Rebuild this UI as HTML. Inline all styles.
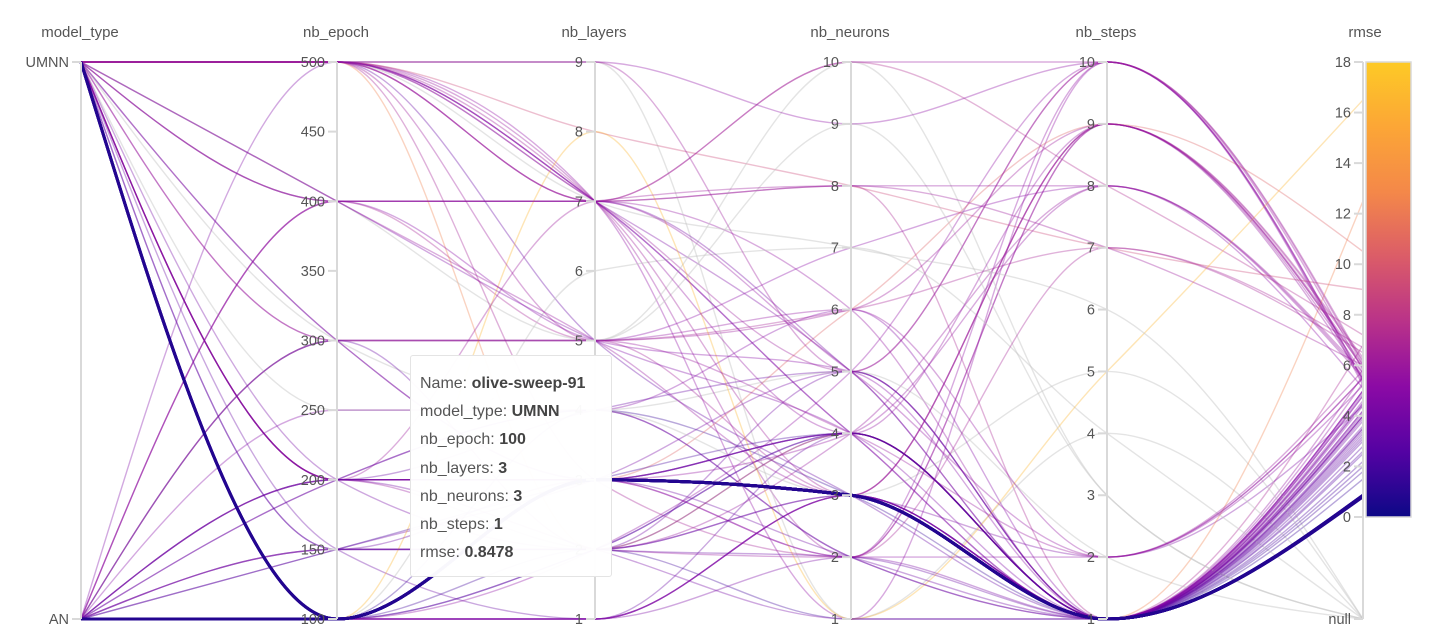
<!DOCTYPE html>
<html><head><meta charset="utf-8">
<style>
body{margin:0;background:#fff;font-family:"Liberation Sans",sans-serif;}
#wrap{position:relative;width:1441px;height:643px;overflow:hidden;}
svg text{font-family:"Liberation Sans",sans-serif;fill:#555;}
#tip{position:absolute;left:410px;top:355px;width:202px;height:222px;background:rgba(255,255,255,0.97);border:1px solid #e4e4e4;border-radius:3px;box-sizing:border-box;padding:14px 0 0 9px;font-size:16px;color:#555;line-height:28.2px;}
#tip b{color:#444;}
</style></head><body>
<div id="wrap">
<svg id="chart" width="1441" height="643"></svg>
<div id="tip">
<div>Name: <b>olive-sweep-91</b></div>
<div>model_type: <b>UMNN</b></div>
<div>nb_epoch: <b>100</b></div>
<div>nb_layers: <b>3</b></div>
<div>nb_neurons: <b>3</b></div>
<div>nb_steps: <b>1</b></div>
<div>rmse: <b>0.8478</b></div>
</div>
</div>
<script>
const modelTypes=["AN","AN","AN","AN","AN","AN","AN","AN","UMNN","UMNN","UMNN","UMNN",
"AN","AN","AN","AN","AN","AN","AN","AN","AN","AN","AN","AN",
"UMNN","UMNN","UMNN","UMNN","UMNN","UMNN","UMNN","UMNN","UMNN","UMNN","UMNN","UMNN",
"UMNN","UMNN","UMNN","UMNN","UMNN","UMNN","UMNN","UMNN","UMNN","UMNN","UMNN","UMNN",
"AN","AN","AN","AN","AN","AN","UMNN","UMNN","UMNN","UMNN","UMNN","UMNN",
"AN","UMNN","UMNN","AN","UMNN","AN","UMNN","UMNN","AN","UMNN","UMNN","UMNN",
"AN","AN","AN","AN","UMNN","UMNN","UMNN","UMNN","AN","AN","UMNN","UMNN","AN","UMNN"];
const epochs=[100,100,100,100,100,100,100,100,100,100,100,100,
500,400,300,200,200,100,200,150,150,100,400,300,
500,500,500,500,500,500,500,500,400,400,400,300,
300,200,200,200,200,200,150,150,100,100,500,400,
100,200,150,250,300,100,500,500,400,300,200,250,
100,500,200,300,500,100,500,200,400,500,300,150,
100,100,150,200,500,500,400,300,100,200,500,100,150,500];
const layers=[3,3,3,3,3,3,3,3,3,3,3,3,
7,5,2,3,2,1,4,2,3,1,7,5,
9,7,7,5,7,3,9,7,7,5,5,5,
3,3,2,4,3,7,2,3,1,2,7,5,
8,3,2,4,5,6,2,8,7,5,3,4,
1,7,3,5,9,2,7,3,5,7,4,1,
2,1,3,4,7,5,7,3,2,2,7,4,2,7];
const neurons=[3,3,3,3,3,3,3,3,3,3,3,3,
4,5,2,4,1,3,2,3,4,3,5,4,
5,4,10,6,8,2,9,3,5,4,3,6,
4,4,3,5,2,8,4,2,2,1,7,9,
1,4,5,6,10,7,4,8,10,3,2,3,
3,5,6,7,1,4,2,3,6,1,5,4,
4,3,5,2,4,3,6,4,5,2,5,3,4,8];
const steps=[1,1,1,1,1,1,1,1,1,1,1,1,
1,1,1,1,1,1,1,1,1,1,2,2,
10,9,10,9,8,7,10,9,1,1,9,2,
8,1,1,1,2,7,1,1,1,1,6,3,
5,1,1,1,3,4,1,7,8,9,10,5,
1,10,9,8,4,1,9,2,7,10,2,1,
1,1,1,1,1,1,1,1,10,9,1,1,8,1];
const rmses=[0.82,0.84,0.8,0.85,0.83,0.81,0.86,0.82,0.85,0.84,0.86,0.83,
4.5,5,3.5,3,4,5,2.5,3.2,2,4.2,5.5,5.8,
6,5.5,5.8,6,5.5,6.5,5.2,6.2,4,4.5,5.7,5.5,
5.6,5,4,3.5,5.2,6,2.8,3.8,4.2,1.8,null,null,
16.5,4.6,3.9,4.8,null,null,12.5,9,7.2,6.3,5.4,null,
4.9,6.1,10.5,5.1,null,3.1,5.9,4.4,6.7,5.3,null,3.4,
2.2,3.6,4.1,5.3,4.8,3.3,5.6,2.6,5.4,5.9,4.4,1.5,5.7,6.8];

const axX=[81,337,595,851,1107,1363];
const names=["model_type","nb_epoch","nb_layers","nb_neurons","nb_steps","rmse"];
const Y0=619,Y1=62;
function yModel(v){return v==="UMNN"?Y1:Y0;}
function yEpoch(v){return Y0-(v-100)/400*(Y0-Y1);}
function yLin9(v){return Y0-(v-1)/8*(Y0-Y1);}
function yLin10(v){return Y0-(v-1)/9*(Y0-Y1);}
const RM0=517;
function yRmse(v){return v===null?Y0:RM0-v/18*(RM0-Y1);}
const plasma=[[13,8,135],[84,2,163],[139,10,165],[185,50,137],[219,92,104],[244,136,73],[252,166,54],[253,202,38]];
function col(v){
 if(v===null)return "rgb(195,195,195)";
 let t=Math.max(0,Math.min(1,v/18))*(plasma.length-1);
 let i=Math.min(plasma.length-2,Math.floor(t)),f=t-i;
 const c=plasma[i].map((a,k)=>Math.round(a+(plasma[i+1][k]-a)*f));
 return `rgb(${c})`;
}
const NS="http://www.w3.org/2000/svg";
const svg=document.getElementById("chart");
function mk(tag,at,parent){const e=document.createElementNS(NS,tag);for(const k in at)e.setAttribute(k,at[k]);(parent||svg).appendChild(e);return e;}

const defs=mk("defs",{});
const lg=mk("linearGradient",{id:"pg",x1:0,y1:1,x2:0,y2:0},defs);
plasma.forEach((c,i)=>mk("stop",{offset:i/(plasma.length-1),"stop-color":`rgb(${c})`},lg));

function sign(x){return x<0?-1:1;}
function monoPath(pts){
 const n=pts.length,sl=[],t=[];
 for(let i=0;i<n-1;i++)sl.push((pts[i+1][1]-pts[i][1])/(pts[i+1][0]-pts[i][0]));
 for(let i=1;i<n-1;i++){
  const s0=sl[i-1],s1=sl[i],h0=pts[i][0]-pts[i-1][0],h1=pts[i+1][0]-pts[i][0];
  const p=(s0*h1+s1*h0)/(h0+h1);
  t[i]=(sign(s0)+sign(s1))*Math.min(Math.abs(s0),Math.abs(s1),0.5*Math.abs(p))||0;
 }
 t[0]=(3*sl[0]-t[1])/2;
 t[n-1]=(3*sl[n-2]-t[n-2])/2;
 let d=`M${pts[0][0]},${pts[0][1]}`;
 for(let i=0;i<n-1;i++){
  const dx=(pts[i+1][0]-pts[i][0])/3;
  d+=` C${pts[i][0]+dx},${pts[i][1]+dx*t[i]} ${pts[i+1][0]-dx},${pts[i+1][1]-dx*t[i+1]} ${pts[i+1][0]},${pts[i+1][1]}`;
 }
 return d;
}

const lineG=mk("g",{});


for(let r=modelTypes.length-1;r>=0;r--){
 const ys=[yModel(modelTypes[r]),yEpoch(epochs[r]),yLin9(layers[r]),yLin10(neurons[r]),yLin10(steps[r]),yRmse(rmses[r])];
 const pts=axX.map((x,i)=>[x,ys[i]]);
 const p=mk("path",{d:monoPath(pts),fill:"none",stroke:col(rmses[r]),"stroke-width":r<12?3:1.4,"stroke-opacity":r<12?0.9:(rmses[r]===null?0.45:0.35)},lineG);
 
 
}

const tickSets=[
 [["AN",Y0],["UMNN",Y1]],
 [100,150,200,250,300,350,400,450,500].map(v=>[v,yEpoch(v)]),
 [1,2,3,4,5,6,7,8,9].map(v=>[v,yLin9(v)]),
 [1,2,3,4,5,6,7,8,9,10].map(v=>[v,yLin10(v)]),
 [1,2,3,4,5,6,7,8,9,10].map(v=>[v,yLin10(v)]),
 [0,2,4,6,8,10,12,14,16,18].map(v=>[v,yRmse(v)]).concat([["null",Y0]])
];
axX.forEach((x,i)=>{
 const g=mk("g",{});
 
 
 mk("line",{x1:x,y1:Y1,x2:x,y2:Y0,stroke:"#d9d9d9","stroke-width":2},g);
 const t=mk("text",{x:i==5?x+2:x-1,y:37,"text-anchor":"middle","font-size":15},g);
 t.textContent=names[i];
 
 
 tickSets[i].forEach(([v,y])=>{
  mk("line",{x1:x-9,y1:y,x2:x,y2:y,stroke:"#d9d9d9","stroke-width":2},g);
  const tt=mk("text",{x:x-12,y:y+5,"text-anchor":"end","font-size":14.5},g);
  tt.textContent=v;
  
  
 });
});
const cb=mk("rect",{x:1366,y:Y1,width:45,height:RM0-Y1,fill:"url(#pg)",stroke:"#d9d9d9","stroke-width":1.5});


</script>
</body></html>
